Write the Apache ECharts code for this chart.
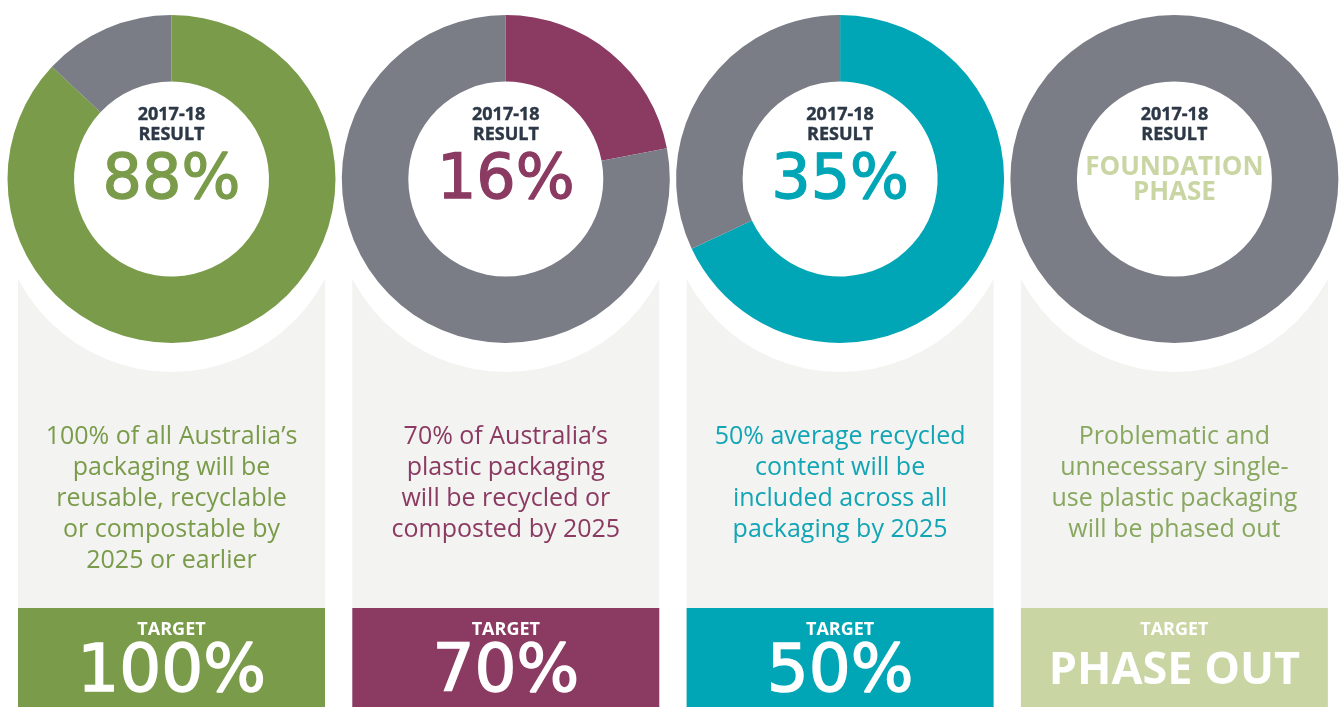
<!DOCTYPE html>
<html>
<head>
<meta charset="utf-8">
<script src="https://cdn.jsdelivr.net/npm/echarts@6/dist/echarts.min.js"></script>
<style>
html,body{margin:0;padding:0;background:#fff;}
#chart{width:1340px;height:707px;}
</style>
</head>
<body>
<div id="chart"></div>
<script>
// ---- data ----
const resultLabels = ['88%', '16%', '35%', 'FOUNDATION\nPHASE'];
const achievedShare = [87, 22, 68, 0];      // coloured arc share as drawn
const remainingShare = [13, 78, 32, 100];   // grey arc share as drawn
const descriptions = [
  "100% of all Australia\u2019s\npackaging will be\nreusable, recyclable\nor compostable by\n2025 or earlier",
  "70% of Australia\u2019s\nplastic packaging\nwill be recycled or\ncomposted by 2025",
  "50% average recycled\ncontent will be\nincluded across all\npackaging by 2025",
  "Problematic and\nunnecessary single-\nuse plastic packaging\nwill be phased out"
];
const targetLabels = ['100%', '70%', '50%', 'PHASE OUT'];
const periodLabel = '2017-18\nRESULT';
const targetHeading = 'TARGET';

// ---- styles ----
const accent = ['#7a9b4a', '#8b3a62', '#01a6b6', '#c9d6a4'];
const descColor = ['#7a9b4a', '#8b3a62', '#11a5b5', '#88a75f'];
const greyArc = '#7a7c86';
const panelColor = '#f3f3f1';
const darkText = '#2c3846';

const chart = echarts.init(document.getElementById('chart'), null, {renderer: 'canvas'});

const step = 334.3, firstCx = 171.5, cy = 179;
const panelW = 307, panelTop = 278, boxTop = 608, boxBottom = 707;

const series = [];
const graphics = [];
for (let i = 0; i < 4; i++) {
  const cx = firstCx + step * i;
  graphics.push({type: 'rect', z: 0, silent: true,
    shape: {x: cx - panelW / 2, y: panelTop, width: panelW, height: boxTop - panelTop},
    style: {fill: panelColor}});
  graphics.push({type: 'rect', z: 0, silent: true,
    shape: {x: cx - panelW / 2, y: boxTop, width: panelW, height: boxBottom - boxTop},
    style: {fill: accent[i]}});
  graphics.push({type: 'circle', z: 1, silent: true,
    shape: {cx: cx, cy: 199, r: 173}, style: {fill: '#ffffff'}});
  graphics.push({type: 'text', z: 10, silent: true,
    style: {text: periodLabel, x: cx, y: 125, textAlign: 'center', textVerticalAlign: 'middle',
      font: 'bold 18px "Open Sans"', lineHeight: 19.5, fill: darkText,
      stroke: darkText, lineWidth: 0.4}});
  if (i < 3) {
    graphics.push({type: 'text', z: 10, silent: true,
      style: {text: resultLabels[i], x: cx, y: 182, textAlign: 'center', textVerticalAlign: 'middle',
        font: '62px "DejaVu Sans"', fill: accent[i], stroke: accent[i], lineWidth: 1.3}});
  } else {
    graphics.push({type: 'text', z: 10, silent: true,
      style: {text: resultLabels[i], x: cx, y: 180.5, textAlign: 'center', textVerticalAlign: 'middle',
        font: 'bold 26px "Open Sans"', lineHeight: 25, fill: accent[i]}});
  }
  graphics.push({type: 'text', z: 10, silent: true,
    style: {text: descriptions[i], x: cx, y: 421, textAlign: 'center', textVerticalAlign: 'top',
      font: '25px "Open Sans"', lineHeight: 31, fill: descColor[i]}});
  graphics.push({type: 'text', z: 10, silent: true,
    style: {text: targetHeading, x: cx, y: 630, textAlign: 'center', textVerticalAlign: 'middle',
      font: 'bold 18px "Open Sans"', fill: '#ffffff'}});
  graphics.push({type: 'text', z: 10, silent: true,
    style: i < 3
      ? {text: targetLabels[i], x: cx, y: 674, textAlign: 'center', textVerticalAlign: 'middle',
         font: '66px "DejaVu Sans"', fill: '#ffffff', stroke: '#ffffff', lineWidth: 1.5}
      : {text: targetLabels[i], x: cx, y: 671, textAlign: 'center', textVerticalAlign: 'middle',
         font: 'bold 45px "Open Sans"', fill: '#ffffff'}});

  series.push({
    type: 'pie', z: 5, silent: true, animation: false,
    center: [cx, cy], radius: [97.5, 164],
    startAngle: 90, clockwise: true,
    label: {show: false}, labelLine: {show: false},
    emphasis: {disabled: true},
    itemStyle: {borderWidth: 0},
    data: [
      {value: achievedShare[i], itemStyle: {color: accent[i]}},
      {value: remainingShare[i], itemStyle: {color: greyArc}}
    ]
  });
}

chart.setOption({
  backgroundColor: '#ffffff',
  animation: false,
  tooltip: {show: false},
  graphic: {elements: graphics},
  series: series
});
</script>
</body>
</html>
